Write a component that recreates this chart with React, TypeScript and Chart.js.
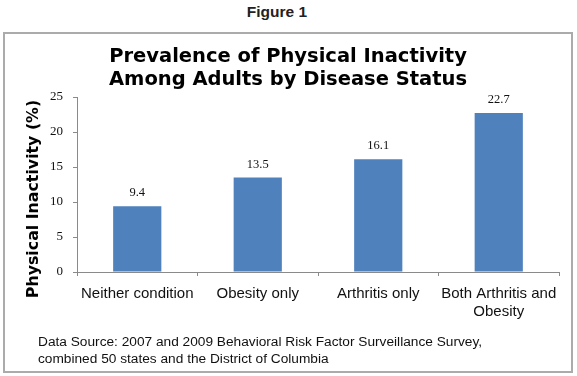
import React, { useEffect, useRef } from "react";
import { Chart, registerables } from "chart.js";

Chart.register(...registerables);

const figureLabel = "Figure 1";
const titleLines = ["Prevalence of Physical Inactivity", "Among Adults by Disease Status"];
const yAxisTitle = "Physical Inactivity (%)";
const categories: (string | string[])[] = [
  "Neither condition",
  "Obesity only",
  "Arthritis only",
  ["Both Arthritis and", "Obesity"],
];
const values = [9.4, 13.5, 16.1, 22.7];
const yMin = 0;
const yMax = 25;
const yStep = 5;
const sourceLines = [
  "Data Source: 2007 and 2009 Behavioral Risk Factor Surveillance Survey,",
  "combined 50 states and the District of Columbia",
];

const CANVAS_W = 566;
const CANVAS_H = 337;

const annotatePlugin = {
  id: "annotate",
  afterDatasetsDraw(chart: any) {
    const ctx = chart.ctx as CanvasRenderingContext2D;
    const meta = chart.getDatasetMeta(0);
    ctx.save();
    // value labels
    ctx.fillStyle = "#111";
    ctx.font = "12.5px 'Liberation Serif'";
    ctx.textAlign = "center";
    ctx.textBaseline = "alphabetic";
    meta.data.forEach((bar: any, i: number) => {
      ctx.fillText(values[i].toFixed(1), bar.x, bar.y - 10);
    });
    // main title
    ctx.fillStyle = "#000";
    ctx.font = "bold 19.5px 'DejaVu Sans'";
    ctx.textAlign = "center";
    ctx.fillText(titleLines[0], 283, 28);
    ctx.fillText(titleLines[1], 283, 51);
    // y axis title
    ctx.save();
    ctx.translate(29, 165);
    ctx.rotate(-Math.PI / 2);
    ctx.font = "bold 15.8px 'DejaVu Sans'";
    ctx.textAlign = "center";
    ctx.textBaseline = "middle";
    ctx.fillText(yAxisTitle, 0, 0);
    ctx.restore();
    // source note
    ctx.font = "13.7px 'Liberation Sans'";
    ctx.textAlign = "left";
    ctx.textBaseline = "alphabetic";
    ctx.fillStyle = "#111";
    ctx.fillText(sourceLines[0], 33, 312);
    ctx.fillText(sourceLines[1], 33, 329);
    ctx.restore();
  },
};

export default function App() {
  const ref = useRef<HTMLCanvasElement | null>(null);

  useEffect(() => {
    if (!ref.current) return;
    const chart = new Chart(ref.current, {
      type: "bar",
      data: {
        labels: categories as any,
        datasets: [
          {
            data: values,
            backgroundColor: "#4F81BD",
            borderWidth: 0,
            categoryPercentage: 1,
            barPercentage: 0.4,
          },
        ],
      },
      options: {
        responsive: false,
        animation: false,
        devicePixelRatio: 1,
        layout: { padding: { top: 63, left: 0, right: 12, bottom: 39 } },
        plugins: {
          legend: { display: false },
          title: { display: false },
          tooltip: { enabled: false },
        },
        scales: {
          x: {
            afterFit: (s: any) => {
              s.height = 60;
            },
            grid: {
              display: true,
              drawOnChartArea: false,
              drawTicks: true,
              tickLength: 4,
              color: "#8a8a8a",
              offset: true,
            },
            border: { display: true, color: "#8a8a8a" },
            ticks: {
              color: "#111",
              font: { family: "'Liberation Sans'", size: 15 },
              padding: 9,
              maxRotation: 0,
              autoSkip: false,
            },
          },
          y: {
            min: yMin,
            max: yMax,
            afterFit: (s: any) => {
              s.width = 72;
            },
            grid: {
              display: true,
              drawOnChartArea: false,
              drawTicks: true,
              tickLength: 4,
              color: "#8a8a8a",
            },
            border: { display: true, color: "#8a8a8a" },
            ticks: {
              stepSize: yStep,
              color: "#111",
              font: { family: "'Liberation Serif'", size: 13 },
              padding: 10,
            },
          },
        },
      },
      plugins: [annotatePlugin],
    });
    return () => chart.destroy();
  }, []);

  return (
    <div
      style={{
        position: "absolute",
        left: 0,
        top: 0,
        width: 577,
        height: 376,
        background: "#fff",
        overflow: "hidden",
      }}
    >
      <div
        style={{
          position: "absolute",
          left: 0,
          top: 3,
          width: 554,
          textAlign: "center",
          font: "bold 15.5px 'Liberation Sans', Arial, sans-serif",
          lineHeight: "18px",
          color: "#222",
        }}
      >
        {figureLabel}
      </div>
      <div
        style={{
          position: "absolute",
          left: 3,
          top: 32,
          width: 570,
          height: 341,
          boxSizing: "border-box",
          border: "2px solid #ababab",
          background: "#fff",
        }}
      >
        <canvas
          ref={ref}
          width={CANVAS_W}
          height={CANVAS_H}
          style={{ display: "block", width: CANVAS_W, height: CANVAS_H }}
        />
      </div>
    </div>
  );
}
